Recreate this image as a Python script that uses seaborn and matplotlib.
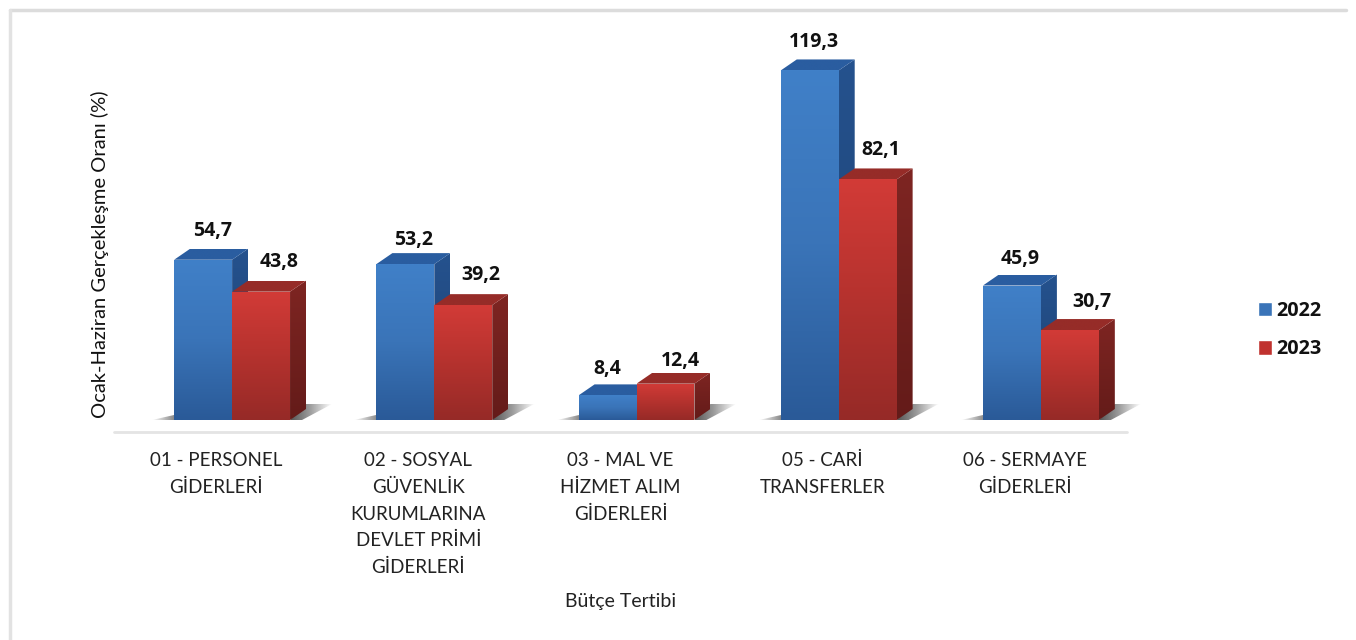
import numpy as np
import pandas as pd
import matplotlib
matplotlib.use("Agg")
import matplotlib.pyplot as plt
from matplotlib.colors import LinearSegmentedColormap
from matplotlib.lines import Line2D
from matplotlib.patches import Polygon, Rectangle
from matplotlib.transforms import ScaledTranslation
import seaborn as sns

categories = ["01 - PERSONEL\nGİDERLERİ",
              "02 - SOSYAL\nGÜVENLİK\nKURUMLARINA\nDEVLET PRİMİ\nGİDERLERİ",
              "03 - MAL VE\nHİZMET ALIM\nGİDERLERİ",
              "05 - CARİ\nTRANSFERLER",
              "06 - SERMAYE\nGİDERLERİ"]
values_2022 = [54.7, 53.2, 8.4, 119.3, 45.9]
values_2023 = [43.8, 39.2, 12.4, 82.1, 30.7]
labels_2022 = ["54,7", "53,2", "8,4", "119,3", "45,9"]
labels_2023 = ["43,8", "39,2", "12,4", "82,1", "30,7"]
years = ["2022", "2023"]

sns.set_theme(style="white")
plt.rcParams["font.family"] = ["Lato", "DejaVu Sans"]

df = pd.DataFrame({
    "cat": categories * 2,
    "val": values_2022 + values_2023,
    "year": [years[0]] * 5 + [years[1]] * 5,
})

W, H = 1356, 640
fig = plt.figure(figsize=(W / 100, H / 100), dpi=100, facecolor="white")
L, R, BASE = 131, 1142, 420
ax = fig.add_axes([L / W, (H - BASE) / H, (R - L) / W, BASE / H])
ax.patch.set_alpha(0)
PX_PER_UNIT = 2.93
YMAX = BASE / PX_PER_UNIT

sns.barplot(data=df, x="cat", y="val", hue="year", order=categories,
            hue_order=years, palette=["#3a74b8", "#b5322e"], width=0.573,
            gap=0, saturation=1, ax=ax, legend=False, linewidth=0)
XLIM = (-0.5, 4.5)
ax.set_xlim(XLIM)
ax.set_ylim(0, YMAX)
for s in ax.spines.values():
    s.set_visible(False)

px_x = (XLIM[1] - XLIM[0]) / (R - L)
px_y = YMAX / BASE
DX, DY = 16 * px_x, 11 * px_y


def grad(pts, colors, z, horizontal=False):
    """Fill a polygon in data coordinates with a linear gradient."""
    pts = np.array(pts)
    cmap = LinearSegmentedColormap.from_list("g", colors)
    arr = np.linspace(0, 1, 128)
    arr = arr[None, :] if horizontal else arr[:, None]
    ext = (pts[:, 0].min(), pts[:, 0].max(), pts[:, 1].min(), pts[:, 1].max())
    im = ax.imshow(arr, cmap=cmap, extent=ext, origin="upper", aspect="auto",
                   zorder=z, interpolation="bilinear", vmin=0, vmax=1)
    poly = Polygon(pts, closed=True, transform=ax.transData, facecolor="none",
                   edgecolor="none")
    ax.add_patch(poly)
    im.set_clip_path(poly)


styles = [
    dict(front=["#4080c8", "#3a74b8", "#2a5a98"], side=["#25528e", "#1c4070"],
         top=["#2a5da0", "#2a5da0"], text_dx=8),
    dict(front=["#d23b37", "#b5322e", "#962a27"], side=["#7e2522", "#641b19"],
         top=["#962c28", "#962c28"], text_dx=17),
]
label_sets = [labels_2022, labels_2023]
shift_x = [[1, 0, -8, -4, 0], [1, 1, -2, -4, 5]]
shift_y = [[1, 6, 4, 2, 3], [0, 0, 7, 1, 2]]

for h, cont in enumerate(ax.containers):
    st = styles[h]
    for i, bar in enumerate(cont):
        x0, w, v = bar.get_x(), bar.get_width(), bar.get_height()
        x1 = x0 + w
        z = 3 + 3 * h
        bar.set_zorder(z)
        grad([(x1, 0), (x1 + DX, DY), (x1 + DX, v + DY), (x1, v)], st["side"], z - 1)
        grad([(x0, v), (x1, v), (x1 + DX, v + DY), (x0 + DX, v + DY)], st["top"], z - 1)
        grad([(x0, 0), (x1, 0), (x1, v), (x0, v)], st["front"], z + 0.5)
        ax.annotate(label_sets[h][i], (x0 + w / 2, v), xytext=(
            (st["text_dx"] + shift_x[h][i]) * 0.72, (30 - shift_y[h][i]) * 0.72),
            textcoords="offset points", ha="center", va="center",
            fontsize=14, fontweight="bold", fontfamily="Open Sans",
            color="#111111", zorder=10)

# floor shadows on both sides of each group
for i in range(len(categories)):
    b = ax.containers[0][i]
    r = ax.containers[1][i]
    x0, x1 = b.get_x(), r.get_x() + r.get_width()
    grad([(x0 - 22 * px_x, 0), (x0, 0), (x0, 5 * px_y)], ["#ffffff", "#8a8a8a"], 1, True)
    grad([(x1, 0), (x1 + 16 * px_x, 16 * px_y), (x1 + 42 * px_x, 16 * px_y),
          (x1 + 12 * px_x, 0)], ["#555555", "#a0a0a0", "#ffffff"], 1, True)

ax.set_xticks(range(5))
ax.set_xticklabels(categories, fontsize=13.5, color="#222222", linespacing=1.69)
ax.tick_params(axis="x", length=0, pad=23)
shift_left = ScaledTranslation(-16 / 100, 0, fig.dpi_scale_trans)
for t in ax.get_xticklabels():
    t.set_transform(t.get_transform() + shift_left)
ax.set_yticks([])
ax.set_xlabel("Bütçe Tertibi", fontsize=14, color="#222222")
ax.set_ylabel("Ocak-Haziran Gerçekleşme Oranı (%)", fontsize=14.5, color="#111111")
ax.xaxis.set_label_coords((621 - L) / (R - L), (BASE - 593) / BASE, transform=ax.transAxes)
ax.yaxis.set_label_coords((109 - L) / (R - L), (BASE - 254) / BASE, transform=ax.transAxes)

# floor line, frame
fig.add_artist(Line2D([114 / W, 1127 / W], [(H - 432) / H] * 2, color="#e4e4e4", lw=2))
fig.add_artist(Line2D([10 / W, 1346 / W], [(H - 9.5) / H] * 2, color="#dcdcdc", lw=2.5))
fig.add_artist(Line2D([10 / W, 10 / W], [(H - 9.5) / H, 0], color="#e2e2e2", lw=2.5))

# legend
handles = [Rectangle((0, 0), 1, 1, facecolor="#3a74b8"),
           Rectangle((0, 0), 1, 1, facecolor="#c0322f")]
fig.legend(handles, years, loc="center left", bbox_to_anchor=(1240 / W, (H - 330) / H),
           frameon=False, prop=dict(size=14.3, weight="bold", family="Open Sans"),
           handlelength=0.72, handleheight=0.72, handletextpad=0.22, labelspacing=0.95,
           labelcolor="#111111")

fig.savefig("out.png", dpi=100)
